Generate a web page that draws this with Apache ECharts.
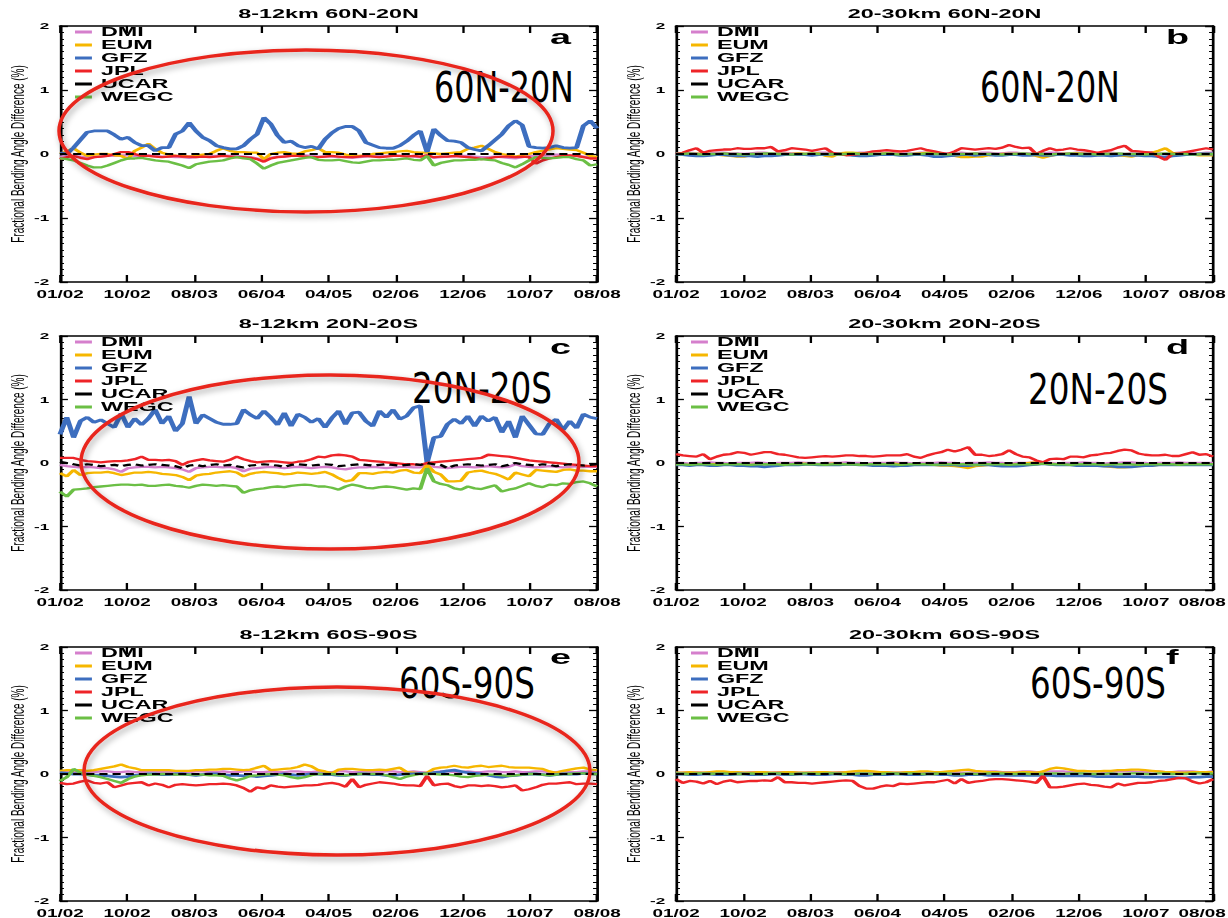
<!DOCTYPE html>
<html><head><meta charset="utf-8">
<script src="https://cdn.jsdelivr.net/npm/echarts@6/dist/echarts.min.js"></script>
<style>
html,body{margin:0;padding:0;background:#fff;overflow:hidden;width:1228px;height:918px;}
#stretch{position:absolute;left:0;top:0;width:682.222px;height:918px;transform:scaleX(1.8);transform-origin:0 0;}
#overlay{position:absolute;left:0;top:0;width:1228px;height:918px;pointer-events:none;}
</style></head><body>
<div id="stretch"></div><div id="overlay"></div>
<script>
// ---------- tick labels / names ----------
const xTickLabels = ['01/02','10/02','08/03','06/04','04/05','02/06','12/06','10/07','08/08'];
const centerNames = ['DMI','EUM','GFZ','JPL','UCAR','WEGC'];
const panelTitles = ['8-12km 60N-20N','20-30km 60N-20N','8-12km 20N-20S','20-30km 20N-20S','8-12km 60S-90S','20-30km 60S-90S'];
const panelLetters = ['a','b','c','d','e','f'];
const regionLabels = ['60N-20N','60N-20N','20N-20S','20N-20S','60S-90S','60S-90S'];
const yAxisName = 'Fractional Bending Angle Difference (%)';

// ---------- monthly values, Jan 2002 .. Aug 2008 (80 months) ----------
const ucarRef = [
0,0,0,0,0,0,0,0,0,0, 0,0,0,0,0,0,0,0,0,0, 0,0,0,0,0,0,0,0,0,0, 0,0,0,0,0,0,0,0,0,0,
0,0,0,0,0,0,0,0,0,0, 0,0,0,0,0,0,0,0,0,0, 0,0,0,0,0,0,0,0,0,0, 0,0,0,0,0,0,0,0,0,0];

// panel a: 8-12km 60N-20N
const dmiA = [
-0.04,-0.03,-0.03,-0.04,-0.05,-0.05,-0.04,-0.03,-0.03,-0.02,
-0.02,-0.03,-0.03,-0.02,-0.03,-0.04,-0.04,-0.05,-0.05,-0.06,
-0.05,-0.04,-0.03,-0.03,-0.02,-0.03,-0.03,-0.04,-0.05,-0.07,
-0.10,-0.06,-0.04,-0.04,-0.03,-0.03,-0.02,-0.03,-0.04,-0.04,
-0.04,-0.05,-0.05,-0.06,-0.05,-0.04,-0.03,-0.03,-0.03,-0.02,
-0.03,-0.03,-0.04,-0.05,-0.02,-0.06,-0.05,-0.04,-0.04,-0.03,
-0.03,-0.04,-0.05,-0.05,-0.04,-0.05,-0.06,-0.07,-0.05,-0.03,
-0.03,-0.02,-0.02,-0.01,-0.01,-0.02,-0.03,-0.04,-0.05,-0.05];
const eumA = [
0.00,0.04,0.09,0.02,-0.03,-0.01,0.00,0.00,-0.02,-0.03,
-0.08,0.05,0.10,0.16,0.08,0.02,-0.01,-0.03,-0.03,-0.04,
-0.03,-0.01,0.00,0.05,0.09,0.05,0.03,0.03,0.02,0.02,
-0.08,0.00,0.02,0.03,0.01,0.00,0.04,0.06,0.09,0.03,
0.03,0.02,-0.01,-0.03,-0.03,-0.02,0.00,0.01,0.02,0.03,
0.04,0.05,0.03,0.02,0.02,0.01,0.00,0.01,0.02,0.03,
0.08,0.10,0.13,0.08,0.03,0.00,-0.02,-0.04,-0.02,0.00,
0.03,0.05,0.07,0.09,0.08,0.07,0.06,0.02,-0.03,-0.05];
const gfzA = [
0.02,0.00,0.10,0.22,0.34,0.36,0.36,0.36,0.30,0.23,
0.26,0.18,0.13,0.13,0.05,0.10,0.10,0.31,0.36,0.49,
0.36,0.26,0.21,0.13,0.10,0.08,0.08,0.13,0.23,0.31,
0.57,0.47,0.29,0.18,0.20,0.13,0.10,0.12,0.08,0.23,
0.33,0.40,0.43,0.43,0.36,0.18,0.14,0.10,0.09,0.09,
0.13,0.20,0.29,0.36,0.03,0.39,0.29,0.21,0.20,0.18,
0.10,0.07,0.05,0.13,0.22,0.31,0.44,0.52,0.45,0.12,
0.10,0.09,0.10,0.13,0.10,0.09,0.10,0.44,0.52,0.40];
const jplA = [
-0.08,-0.05,-0.03,-0.06,-0.08,-0.05,-0.04,-0.03,0.00,0.03,
0.03,0.00,-0.03,-0.03,-0.04,-0.05,-0.04,-0.03,-0.04,-0.04,
-0.05,-0.04,-0.05,-0.04,-0.03,-0.04,-0.05,-0.05,-0.06,-0.08,
-0.12,-0.07,-0.05,-0.04,-0.03,-0.03,-0.04,-0.05,-0.05,-0.04,
-0.03,-0.04,-0.05,-0.05,-0.04,-0.03,-0.04,-0.05,-0.04,-0.03,
-0.03,-0.04,-0.03,-0.04,-0.02,-0.05,-0.04,-0.04,-0.03,-0.04,
-0.05,-0.06,-0.08,-0.07,-0.05,-0.04,-0.04,-0.05,-0.04,-0.05,
-0.15,-0.10,-0.07,-0.05,-0.03,-0.02,-0.03,-0.05,-0.07,-0.07];
const wegcA = [
-0.07,-0.08,-0.10,-0.14,-0.18,-0.21,-0.21,-0.18,-0.14,-0.10,
-0.07,-0.07,-0.06,-0.08,-0.10,-0.11,-0.12,-0.15,-0.18,-0.22,
-0.16,-0.14,-0.12,-0.11,-0.10,-0.07,-0.05,-0.07,-0.08,-0.15,
-0.23,-0.18,-0.14,-0.12,-0.10,-0.08,-0.06,-0.05,-0.09,-0.10,
-0.10,-0.09,-0.11,-0.13,-0.14,-0.12,-0.10,-0.10,-0.09,-0.09,
-0.08,-0.07,-0.09,-0.10,-0.03,-0.18,-0.14,-0.12,-0.10,-0.10,
-0.09,-0.09,-0.08,-0.09,-0.10,-0.14,-0.17,-0.21,-0.16,-0.10,
-0.05,-0.06,-0.07,-0.06,-0.05,-0.05,-0.08,-0.10,-0.18,-0.16];

// panel b: 20-30km 60N-20N
const dmiB = [
0.01,0.01,0.02,0.01,0.00,0.01,0.02,0.02,0.01,0.01,
0.00,0.01,0.02,0.02,0.01,0.01,0.02,0.01,0.01,0.00,
0.01,0.02,0.02,0.01,0.00,0.01,0.01,0.02,0.02,0.01,
0.01,0.02,0.02,0.01,0.01,0.01,0.02,0.02,0.01,0.00,
0.01,0.01,0.02,0.01,0.01,0.02,0.02,0.01,0.01,0.02,
0.02,0.01,0.01,0.00,0.01,0.02,0.02,0.01,0.01,0.02,
0.02,0.01,0.01,0.02,0.02,0.01,0.00,0.01,0.01,0.02,
0.02,0.01,0.00,0.01,0.02,0.02,0.01,0.01,0.02,0.02];
const eumB = [
0.00,0.00,-0.01,0.00,0.01,0.00,-0.01,-0.02,-0.03,-0.04,
-0.04,-0.02,0.00,-0.01,-0.01,0.00,0.00,0.00,0.01,0.00,
0.00,0.01,-0.03,-0.04,0.01,0.02,0.02,0.01,0.00,0.00,
0.00,0.01,0.00,0.00,-0.01,0.00,0.01,0.02,0.01,0.00,
-0.01,-0.03,-0.05,-0.05,-0.04,-0.04,-0.02,-0.01,0.00,0.00,
0.00,-0.01,-0.01,-0.03,-0.06,-0.03,-0.01,0.00,0.00,0.01,
0.00,0.00,-0.01,0.00,0.00,-0.02,-0.03,-0.04,-0.02,0.00,
0.02,0.05,0.09,0.02,0.00,-0.01,-0.01,-0.02,-0.02,-0.02];
const gfzB = [
0.00,-0.01,-0.02,-0.03,-0.03,-0.02,-0.01,-0.01,-0.02,-0.03,
-0.03,-0.03,-0.04,-0.03,-0.03,-0.02,-0.01,-0.01,-0.01,-0.01,
-0.02,-0.01,-0.01,0.00,0.00,-0.01,-0.02,-0.03,-0.03,-0.02,
-0.01,-0.01,-0.01,-0.02,-0.02,-0.01,-0.01,-0.02,-0.04,-0.04,
-0.03,-0.02,-0.01,-0.01,-0.02,-0.01,-0.01,-0.02,-0.02,-0.01,
-0.01,-0.02,-0.02,-0.01,-0.02,-0.02,-0.01,-0.01,-0.02,-0.02,
-0.03,-0.03,-0.02,-0.02,-0.03,-0.02,-0.01,-0.02,-0.02,-0.03,
-0.03,-0.04,-0.05,-0.03,-0.02,-0.01,-0.01,0.00,0.00,0.00];
const jplB = [
0.00,0.02,0.06,0.09,0.02,0.05,0.06,0.07,0.07,0.09,
0.08,0.08,0.09,0.09,0.11,0.04,0.06,0.09,0.08,0.07,
0.05,0.07,0.09,0.02,0.00,-0.02,-0.01,0.00,0.02,0.04,
0.05,0.06,0.05,0.04,0.05,0.07,0.09,0.06,0.04,0.02,
0.00,0.04,0.09,0.08,0.07,0.08,0.09,0.08,0.10,0.14,
0.11,0.09,0.10,0.00,0.05,0.09,0.06,0.07,0.09,0.07,
0.06,0.04,0.02,0.04,0.06,0.10,0.13,0.05,0.04,0.03,
0.02,-0.04,-0.09,0.00,0.01,0.03,0.05,0.07,0.09,0.07];
const wegcB = [
0.00,0.00,0.01,0.00,-0.01,0.00,0.00,0.01,0.00,0.00,
-0.01,0.00,0.00,0.01,0.01,0.00,0.00,-0.01,0.00,0.00,
0.01,0.00,0.00,0.00,-0.01,0.00,0.01,0.00,0.00,0.00,
0.00,0.01,0.00,-0.01,0.00,0.00,0.00,0.01,0.00,0.00,
-0.01,0.00,0.00,0.00,0.01,0.00,0.00,0.00,-0.01,0.00,
0.00,0.01,0.00,0.00,0.00,-0.01,0.00,0.00,0.01,0.00,
0.00,0.00,-0.01,0.00,0.00,0.01,0.00,0.00,0.00,-0.01,
0.00,0.00,0.01,0.00,0.00,0.00,-0.01,0.00,0.00,0.00];

// panel c: 8-12km 20N-20S
const dmiC = [
-0.03,-0.05,-0.06,-0.07,-0.06,-0.07,-0.08,-0.08,-0.10,-0.14,
-0.08,-0.07,-0.06,-0.06,-0.07,-0.06,-0.07,-0.08,-0.10,-0.14,
-0.08,-0.07,-0.06,-0.06,-0.07,-0.06,-0.08,-0.13,-0.09,-0.08,
-0.07,-0.06,-0.07,-0.08,-0.07,-0.06,-0.07,-0.08,-0.07,-0.06,
-0.07,-0.09,-0.10,-0.08,-0.07,-0.07,-0.06,-0.07,-0.08,-0.07,
-0.06,-0.06,-0.07,-0.07,-0.02,-0.06,-0.07,-0.08,-0.07,-0.06,
-0.06,-0.07,-0.06,-0.05,-0.06,-0.07,-0.06,-0.02,-0.05,-0.06,
-0.07,-0.06,-0.05,-0.06,-0.07,-0.06,-0.05,-0.06,-0.06,-0.06];
const eumC = [
-0.16,-0.21,-0.11,-0.19,-0.16,-0.15,-0.15,-0.14,-0.16,-0.19,
-0.17,-0.15,-0.15,-0.14,-0.15,-0.17,-0.18,-0.19,-0.22,-0.27,
-0.20,-0.18,-0.17,-0.15,-0.14,-0.13,-0.15,-0.21,-0.17,-0.15,
-0.14,-0.15,-0.16,-0.18,-0.17,-0.15,-0.16,-0.17,-0.16,-0.14,
-0.18,-0.24,-0.29,-0.27,-0.16,-0.16,-0.17,-0.15,-0.14,-0.15,
-0.12,-0.11,-0.15,-0.16,-0.03,-0.14,-0.18,-0.29,-0.29,-0.28,
-0.15,-0.13,-0.12,-0.15,-0.17,-0.21,-0.26,-0.15,-0.18,-0.21,
-0.11,-0.12,-0.13,-0.14,-0.11,-0.10,-0.12,-0.12,-0.13,-0.13];
const gfzC = [
0.45,0.72,0.40,0.66,0.72,0.64,0.68,0.62,0.56,0.78,
0.56,0.70,0.60,0.70,0.84,0.62,0.74,0.50,0.62,1.05,
0.62,0.76,0.70,0.64,0.61,0.61,0.62,0.84,0.76,0.70,
0.82,0.72,0.60,0.79,0.58,0.77,0.72,0.64,0.70,0.56,
0.71,0.82,0.61,0.79,0.80,0.66,0.58,0.82,0.72,0.84,
0.69,0.74,0.87,0.90,0.00,0.40,0.42,0.61,0.69,0.62,
0.74,0.58,0.74,0.66,0.72,0.48,0.66,0.40,0.74,0.60,
0.46,0.45,0.62,0.69,0.52,0.66,0.55,0.77,0.72,0.70];
const jplC = [
0.08,0.08,0.08,0.05,0.03,0.02,0.01,0.02,0.03,0.03,
0.04,0.06,0.10,0.05,0.05,0.04,0.05,0.03,-0.03,0.02,
0.04,0.06,0.04,0.03,0.02,0.05,0.10,0.06,0.03,0.01,
0.02,0.03,0.02,0.01,0.00,0.02,0.03,0.06,0.10,0.09,
0.12,0.13,0.12,0.10,0.05,0.04,0.03,0.02,0.01,0.00,
-0.01,-0.02,-0.02,-0.03,0.00,0.01,0.02,0.03,0.04,0.05,
0.06,0.07,0.08,0.13,0.12,0.11,0.10,0.08,0.06,0.04,
0.03,0.02,0.01,0.00,-0.01,-0.02,-0.03,-0.04,-0.05,-0.05];
const ucarC = [
0.02,0.00,-0.02,-0.04,-0.02,-0.03,-0.05,-0.04,-0.03,-0.05,
-0.03,-0.02,-0.04,-0.03,-0.02,-0.03,-0.04,-0.05,-0.08,-0.04,
-0.03,-0.05,-0.03,-0.02,-0.04,-0.03,-0.05,-0.07,-0.04,-0.03,
-0.02,-0.03,-0.04,-0.06,-0.03,-0.02,-0.03,-0.04,-0.03,-0.02,
-0.03,-0.05,-0.04,-0.03,-0.02,-0.03,-0.04,-0.03,-0.02,-0.03,
-0.04,-0.03,-0.02,-0.03,0.00,-0.02,-0.03,-0.08,-0.04,-0.03,
-0.02,-0.03,-0.04,-0.03,-0.02,-0.05,-0.03,0.00,-0.02,-0.03,
-0.04,-0.02,-0.03,-0.05,-0.03,-0.02,-0.03,-0.04,-0.03,-0.02];
const wegcC = [
-0.45,-0.53,-0.42,-0.41,-0.40,-0.38,-0.37,-0.36,-0.35,-0.34,
-0.34,-0.35,-0.34,-0.36,-0.36,-0.35,-0.34,-0.36,-0.37,-0.39,
-0.36,-0.34,-0.35,-0.36,-0.35,-0.36,-0.37,-0.47,-0.43,-0.41,
-0.40,-0.38,-0.37,-0.38,-0.36,-0.35,-0.34,-0.35,-0.37,-0.37,
-0.39,-0.42,-0.37,-0.34,-0.36,-0.39,-0.40,-0.38,-0.37,-0.38,
-0.40,-0.42,-0.40,-0.41,-0.08,-0.29,-0.33,-0.35,-0.40,-0.42,
-0.37,-0.40,-0.41,-0.38,-0.35,-0.45,-0.42,-0.40,-0.36,-0.32,
-0.36,-0.38,-0.34,-0.35,-0.32,-0.33,-0.30,-0.29,-0.32,-0.37];

// panel d: 20-30km 20N-20S
const dmiD = [
0.00,0.00,-0.01,0.00,0.00,0.01,0.00,0.00,-0.01,0.00,
0.00,0.00,0.01,0.00,-0.01,0.00,0.00,0.00,0.01,0.00,
0.00,-0.01,0.00,0.00,0.00,0.01,0.00,0.00,-0.01,0.00,
0.00,0.00,0.01,0.00,0.00,-0.01,0.00,0.00,0.00,0.01,
0.00,0.00,-0.01,0.00,0.00,0.00,0.01,0.00,0.00,-0.01,
0.00,0.00,0.00,0.01,0.00,0.00,-0.01,0.00,0.00,0.00,
0.01,0.00,0.00,-0.01,0.00,0.00,0.01,0.01,0.00,0.00,
-0.01,0.00,0.00,0.00,0.01,0.00,0.00,0.00,0.00,0.00];
const eumD = [
-0.02,-0.03,-0.03,-0.02,-0.03,-0.02,-0.02,-0.03,-0.02,-0.02,
-0.02,-0.03,-0.03,-0.02,-0.02,-0.02,-0.03,-0.02,-0.01,-0.01,
-0.02,-0.02,-0.02,-0.01,-0.01,-0.02,-0.02,-0.02,-0.03,-0.02,
-0.02,-0.02,-0.01,-0.02,-0.02,-0.03,-0.02,-0.03,-0.03,-0.04,
-0.04,-0.05,-0.06,-0.08,-0.05,-0.04,-0.03,-0.03,-0.02,-0.03,
-0.02,-0.01,0.00,0.01,0.00,-0.01,-0.02,-0.02,-0.03,-0.03,
-0.03,-0.03,-0.04,-0.05,-0.06,-0.07,-0.07,-0.06,-0.05,-0.04,
-0.04,-0.03,-0.03,-0.03,-0.02,-0.02,-0.03,-0.02,-0.02,-0.02];
const gfzD = [
-0.03,-0.03,-0.04,-0.03,-0.03,-0.04,-0.04,-0.03,-0.03,-0.04,
-0.04,-0.05,-0.05,-0.06,-0.05,-0.04,-0.03,-0.03,-0.03,-0.02,
-0.02,-0.03,-0.03,-0.03,-0.03,-0.02,-0.02,-0.03,-0.03,-0.04,
-0.04,-0.04,-0.05,-0.04,-0.04,-0.03,-0.03,-0.03,-0.03,-0.03,
-0.03,-0.03,-0.04,-0.04,-0.03,-0.03,-0.03,-0.04,-0.05,-0.05,
-0.05,-0.04,-0.03,-0.02,-0.01,-0.02,-0.03,-0.03,-0.03,-0.04,
-0.04,-0.04,-0.04,-0.05,-0.05,-0.06,-0.06,-0.06,-0.05,-0.04,
-0.04,-0.03,-0.03,-0.03,-0.03,-0.03,-0.03,-0.03,-0.03,-0.03];
const jplD = [
0.14,0.12,0.11,0.10,0.14,0.06,0.10,0.13,0.14,0.17,
0.16,0.13,0.15,0.17,0.17,0.14,0.13,0.11,0.09,0.08,
0.09,0.10,0.11,0.10,0.11,0.12,0.12,0.11,0.11,0.10,
0.11,0.12,0.12,0.12,0.14,0.10,0.08,0.12,0.15,0.17,
0.21,0.18,0.21,0.25,0.13,0.13,0.11,0.12,0.14,0.20,
0.14,0.10,0.09,0.04,0.01,0.06,0.07,0.06,0.10,0.10,
0.09,0.12,0.13,0.15,0.16,0.19,0.21,0.20,0.15,0.13,
0.12,0.12,0.13,0.11,0.11,0.14,0.17,0.13,0.14,0.10];
const wegcD = [
-0.02,-0.02,-0.03,-0.02,-0.02,-0.02,-0.03,-0.02,-0.02,-0.02,
-0.02,-0.03,-0.02,-0.02,-0.02,-0.02,-0.03,-0.02,-0.02,-0.02,
-0.02,-0.02,-0.03,-0.02,-0.02,-0.02,-0.02,-0.03,-0.02,-0.02,
-0.02,-0.02,-0.02,-0.03,-0.02,-0.02,-0.02,-0.02,-0.03,-0.02,
-0.02,-0.02,-0.02,-0.02,-0.03,-0.02,-0.02,-0.02,-0.02,-0.03,
-0.02,-0.02,-0.02,-0.02,-0.01,-0.02,-0.02,-0.02,-0.03,-0.02,
-0.02,-0.02,-0.02,-0.03,-0.02,-0.02,-0.02,-0.02,-0.03,-0.02,
-0.02,-0.02,-0.02,-0.02,-0.03,-0.02,-0.02,-0.02,-0.02,-0.02];

// panel e: 8-12km 60S-90S
const dmiE = [
0.04,0.03,0.03,0.04,0.03,0.03,0.04,0.04,0.03,0.03,
0.04,0.03,0.03,0.04,0.04,0.03,0.03,0.04,0.03,0.03,
0.04,0.04,0.03,0.03,0.04,0.03,0.03,0.04,0.04,0.03,
0.03,0.04,0.03,0.03,0.04,0.04,0.03,0.03,0.04,0.03,
0.03,0.04,0.04,0.03,0.03,0.04,0.03,0.03,0.04,0.04,
0.03,0.03,0.04,0.03,0.02,0.03,0.04,0.04,0.03,0.03,
0.04,0.03,0.03,0.04,0.04,0.03,0.03,0.04,0.03,0.03,
0.04,0.04,0.03,0.03,0.04,0.03,0.03,0.04,0.04,0.04];
const eumE = [
0.05,0.06,0.06,0.06,0.05,0.06,0.08,0.10,0.12,0.15,
0.11,0.09,0.06,0.06,0.06,0.06,0.06,0.05,0.05,0.05,
0.06,0.06,0.07,0.07,0.08,0.08,0.07,0.06,0.07,0.10,
0.13,0.06,0.07,0.08,0.09,0.11,0.15,0.12,0.06,0.04,
0.01,0.07,0.08,0.08,0.07,0.06,0.06,0.07,0.06,0.08,
0.10,0.03,0.02,0.01,0.02,0.08,0.10,0.11,0.13,0.11,
0.10,0.12,0.13,0.11,0.12,0.13,0.11,0.10,0.10,0.10,
0.09,0.08,0.04,0.02,0.05,0.07,0.09,0.10,0.07,0.06];
const gfzE = [
0.02,0.01,0.00,0.00,-0.01,-0.02,-0.02,-0.03,-0.04,-0.05,
-0.04,-0.02,-0.01,0.00,0.00,-0.01,-0.01,0.00,0.00,-0.01,
-0.02,-0.01,0.00,0.00,-0.01,-0.02,-0.02,-0.03,-0.03,-0.04,
-0.03,-0.02,-0.01,0.00,-0.01,-0.02,-0.01,0.00,0.00,-0.01,
-0.01,-0.02,-0.02,-0.01,0.00,0.00,-0.01,-0.01,-0.02,-0.02,
-0.01,0.00,0.00,0.01,0.00,0.02,0.03,0.05,0.06,0.04,
0.02,0.01,0.00,-0.02,-0.04,-0.05,-0.03,-0.02,-0.01,0.00,
0.00,-0.01,-0.02,-0.01,0.00,0.00,0.00,0.01,0.01,0.00];
const jplE = [
-0.14,-0.16,-0.15,-0.12,-0.10,-0.14,-0.15,-0.13,-0.21,-0.18,
-0.15,-0.14,-0.13,-0.18,-0.15,-0.17,-0.21,-0.17,-0.16,-0.17,
-0.18,-0.17,-0.16,-0.16,-0.15,-0.16,-0.18,-0.22,-0.28,-0.21,
-0.23,-0.18,-0.20,-0.21,-0.20,-0.19,-0.18,-0.18,-0.17,-0.15,
-0.14,-0.16,-0.20,-0.08,-0.21,-0.17,-0.15,-0.13,-0.14,-0.15,
-0.17,-0.18,-0.18,-0.19,-0.03,-0.18,-0.16,-0.15,-0.19,-0.21,
-0.18,-0.18,-0.19,-0.18,-0.19,-0.21,-0.20,-0.18,-0.26,-0.24,
-0.21,-0.17,-0.15,-0.15,-0.14,-0.13,-0.16,-0.15,-0.15,-0.16];
const wegcE = [
-0.11,-0.05,0.08,0.02,-0.01,-0.03,-0.05,-0.08,-0.11,-0.14,
-0.08,-0.04,-0.02,-0.01,-0.01,0.00,0.00,-0.01,-0.01,-0.01,
-0.01,-0.01,-0.02,-0.02,-0.03,-0.07,-0.10,-0.07,-0.03,-0.02,
-0.01,0.00,-0.01,-0.02,-0.05,-0.07,-0.05,-0.02,0.00,0.00,
0.00,-0.01,-0.02,-0.01,0.00,0.00,0.00,0.00,-0.02,-0.05,
-0.08,-0.04,-0.02,0.00,0.00,0.00,-0.01,-0.01,-0.02,-0.04,
-0.05,-0.03,-0.02,-0.01,-0.01,-0.02,-0.03,-0.02,-0.01,0.00,
0.00,-0.01,-0.02,-0.01,0.00,0.00,0.01,0.01,0.00,0.00];

// panel f: 20-30km 60S-90S
const dmiF = [
0.02,0.02,0.03,0.03,0.02,0.02,0.03,0.03,0.03,0.02,
0.02,0.03,0.03,0.02,0.02,0.03,0.03,0.03,0.02,0.02,
0.03,0.03,0.02,0.02,0.03,0.03,0.03,0.03,0.02,0.02,
0.03,0.03,0.02,0.02,0.03,0.03,0.03,0.02,0.02,0.03,
0.03,0.03,0.02,0.02,0.03,0.03,0.04,0.04,0.03,0.03,
0.03,0.04,0.04,0.03,0.03,0.04,0.04,0.04,0.03,0.03,
0.04,0.04,0.04,0.03,0.03,0.04,0.04,0.04,0.03,0.03,
0.04,0.04,0.03,0.03,0.04,0.04,0.04,0.03,0.03,0.04];
const eumF = [
0.02,0.02,0.03,0.02,0.02,0.03,0.04,0.04,0.03,0.03,
0.02,0.02,0.03,0.03,0.02,0.02,0.03,0.03,0.02,0.02,
0.02,0.03,0.03,0.02,0.02,0.03,0.04,0.05,0.05,0.04,
0.03,0.03,0.02,0.02,0.03,0.03,0.04,0.04,0.03,0.03,
0.04,0.05,0.06,0.07,0.05,0.04,0.03,0.03,0.02,0.02,
0.02,0.03,0.03,0.02,0.04,0.08,0.10,0.09,0.07,0.05,
0.05,0.04,0.04,0.05,0.05,0.06,0.06,0.07,0.07,0.06,
0.05,0.04,0.03,0.03,0.02,0.02,0.03,0.03,0.03,0.03];
const gfzF = [
0.00,0.00,-0.01,-0.01,0.00,0.00,-0.01,-0.01,-0.01,0.00,
0.00,-0.01,-0.01,-0.01,0.00,0.00,-0.01,-0.01,0.00,0.00,
-0.01,-0.01,-0.01,0.00,0.00,-0.01,-0.01,-0.02,-0.02,-0.01,
-0.01,-0.01,0.00,0.00,-0.01,-0.01,-0.01,0.00,0.00,-0.01,
-0.01,-0.02,-0.02,-0.01,-0.01,-0.01,-0.02,-0.02,-0.02,-0.02,
-0.02,-0.02,-0.02,-0.02,-0.02,-0.02,-0.03,-0.03,-0.03,-0.03,
-0.03,-0.03,-0.04,-0.04,-0.04,-0.04,-0.04,-0.04,-0.04,-0.05,
-0.05,-0.05,-0.05,-0.05,-0.06,-0.06,-0.05,-0.05,-0.04,-0.04];
const jplF = [
-0.08,-0.14,-0.11,-0.12,-0.15,-0.11,-0.16,-0.12,-0.10,-0.13,
-0.12,-0.11,-0.11,-0.10,-0.11,-0.05,-0.13,-0.13,-0.14,-0.14,
-0.15,-0.14,-0.13,-0.12,-0.11,-0.10,-0.11,-0.19,-0.23,-0.23,
-0.20,-0.18,-0.19,-0.15,-0.16,-0.15,-0.14,-0.13,-0.13,-0.11,
-0.09,-0.15,-0.08,-0.14,-0.12,-0.11,-0.09,-0.08,-0.08,-0.09,
-0.10,-0.11,-0.12,-0.14,-0.03,-0.21,-0.21,-0.20,-0.18,-0.16,
-0.15,-0.17,-0.18,-0.20,-0.21,-0.15,-0.18,-0.16,-0.14,-0.14,
-0.13,-0.11,-0.10,-0.08,-0.06,-0.07,-0.12,-0.15,-0.13,-0.08];
const wegcF = [
0.01,0.00,0.00,0.01,0.01,0.00,0.01,0.01,0.00,0.00,
0.00,0.01,0.00,0.00,0.01,0.01,0.00,0.00,0.00,0.01,
0.01,0.00,0.01,0.01,0.00,0.00,0.00,0.01,0.01,0.00,
0.00,0.01,0.01,0.00,0.01,0.01,0.00,0.00,0.00,0.01,
0.01,0.00,0.00,0.01,0.00,0.00,0.01,0.01,0.01,0.00,
0.00,0.01,0.00,0.00,0.00,0.01,0.01,0.00,0.01,0.01,
0.01,0.00,0.00,0.00,0.01,0.00,0.00,0.01,0.01,0.00,
0.00,0.01,0.01,0.00,0.00,0.00,0.01,0.01,0.00,0.01];

// ---------- assemble panels (table built from the arrays above) ----------
const panelSeries = [
  {DMI:dmiA, EUM:eumA, GFZ:gfzA, JPL:jplA, UCAR:ucarRef, WEGC:wegcA},
  {DMI:dmiB, EUM:eumB, GFZ:gfzB, JPL:jplB, UCAR:ucarRef, WEGC:wegcB},
  {DMI:dmiC, EUM:eumC, GFZ:gfzC, JPL:jplC, UCAR:ucarC,   WEGC:wegcC},
  {DMI:dmiD, EUM:eumD, GFZ:gfzD, JPL:jplD, UCAR:ucarRef, WEGC:wegcD},
  {DMI:dmiE, EUM:eumE, GFZ:gfzE, JPL:jplE, UCAR:ucarRef, WEGC:wegcE},
  {DMI:dmiF, EUM:eumF, GFZ:gfzF, JPL:jplF, UCAR:ucarRef, WEGC:wegcF}
];

// ---------- styles / layout ----------
const S = 1.8; // horizontal stretch of the original figure
const FONT = "'Liberation Sans', Arial, Helvetica, sans-serif";
const NARROW = "'Liberation Sans Narrow', 'Arial Narrow', 'DejaVu Sans Condensed', sans-serif";
const seriesStyle = {
  DMI:  {color:'#d57fcc', width:2.3, type:'solid'},
  EUM:  {color:'#f6b700', width:2.3, type:'solid'},
  GFZ:  {color:'#3d6ebf', width:2.8, type:'solid'},
  JPL:  {color:'#ee2428', width:2.3, type:'solid'},
  UCAR: {color:'#000000', width:2.2, type:[4.5,2.8]},
  WEGC: {color:'#6bbf45', width:2.3, type:'solid'}
};
const colLeft = [60, 676], plotW = 537;
const rowTop = [26, 336, 647], rowH = [256, 254, 254];
const titleY = [14, 324, 635];
const letterY = [36, 346, 656];
const X_INTERVAL = 79 / 8;
const labelFont = {fontSize: 10.5, fontWeight: 'bold', color: '#000', fontFamily: FONT};

const grids = [], xAxes = [], yAxes = [], series = [], legends = [], graphics = [];
panelSeries.forEach((ps, i) => {
  const r = Math.floor(i / 2), c = i % 2;
  const L = colLeft[c], T = rowTop[r], H = rowH[r];
  grids.push({left: L / S, top: T, width: plotW / S, height: H, containLabel: false, outerBoundsMode: 'none'});
  const axLine = {show: true, onZero: false, lineStyle: {color: '#000', width: 1.5}};
  const xBase = {type: 'value', gridIndex: i, min: 0, max: 79, interval: X_INTERVAL,
    splitLine: {show: false}, axisLine: axLine,
    axisTick: {show: true, inside: true, length: 7, lineStyle: {color: '#000', width: 1.3}}};
  const xLabel = Object.assign({show: true, margin: 7, showMinLabel: true, showMaxLabel: true, hideOverlap: false,
      formatter: v => {
        const k = Math.round(v / X_INTERVAL);
        const t = xTickLabels[k] || '';
        return (c === 1 && k === xTickLabels.length - 1) ? '{last|' + t + '}' : t;
      },
      rich: {last: Object.assign({padding: [0, 12, 0, 0]}, labelFont)}}, labelFont);
  xAxes.push(Object.assign({}, xBase, {position: 'bottom', axisLabel: xLabel}));
  xAxes.push(Object.assign({}, xBase, {position: 'top', axisLabel: {show: false}}));
  const yBase = {type: 'value', gridIndex: i, min: -2, max: 2, interval: 1,
    splitLine: {show: false}, minorSplitLine: {show: false}, axisLine: axLine,
    axisTick: {show: true, inside: true, length: 4.4, lineStyle: {color: '#000', width: 1.3}},
    minorTick: {show: true, splitNumber: 10, length: 2.2, lineStyle: {color: '#000', width: 1}}};
  yAxes.push(Object.assign({}, yBase, {position: 'left',
    axisLabel: {show: true, fontSize: 9.5, fontWeight: 'bold', color: '#000', fontFamily: FONT, margin: 6},
    name: yAxisName, nameLocation: 'middle', nameRotate: 90, nameGap: 18,
    nameTextStyle: {fontSize: 10, color: '#000', fontFamily: FONT}}));
  yAxes.push(Object.assign({}, yBase, {position: 'right', axisLabel: {show: false}}));

  centerNames.forEach(name => {
    const st = seriesStyle[name];
    series.push({
      name, type: 'line', xAxisIndex: 2 * i, yAxisIndex: 2 * i,
      data: ps[name].map((v, k) => [k, v]),
      symbol: 'none', showSymbol: false, animation: false, clip: true,
      z: name === 'UCAR' ? 4 : 3,
      lineStyle: {color: st.color, width: st.width, type: st.type},
      itemStyle: {color: st.color},
      emphasis: {disabled: true}, silent: true
    });
  });

  legends.push({show: true, orient: 'vertical', left: (L + 15) / S, top: T - 0.5, padding: 0,
    itemGap: 0, itemWidth: 9.4, itemHeight: 3, icon: 'rect', selectedMode: false,
    data: centerNames,
    textStyle: {fontSize: 13, fontWeight: 'bold', color: '#000', fontFamily: FONT, lineHeight: 13}});

  graphics.push({type: 'text', x: (L + plotW / 2) / S, y: titleY[r], z: 10,
    style: {text: panelTitles[i], fontSize: 13, fontWeight: 'bold', fontFamily: FONT, fill: '#000',
      align: 'center', verticalAlign: 'middle'}});
  graphics.push({type: 'text', x: (L + plotW - 47) / S, y: letterY[r], z: 10,
    style: {text: panelLetters[i], fontSize: 21, fontWeight: 'bold', fontFamily: FONT, fill: '#000',
      align: 'left', verticalAlign: 'middle'}});
});

const chartMain = echarts.init(document.getElementById('stretch'), null, {renderer: 'svg'});
chartMain.setOption({
  animation: false,
  backgroundColor: '#fff',
  textStyle: {fontFamily: FONT},
  grid: grids, xAxis: xAxes, yAxis: yAxes, legend: legends, series, graphic: graphics
});

// ---------- overlay annotations (not stretched) ----------
const regionBoxes = [
  {x: 434, y: 87, w: 140}, {x: 980, y: 87, w: 140},
  {x: 412, y: 388, w: 140}, {x: 1028, y: 389, w: 140},
  {x: 399, y: 683, w: 136}, {x: 1030, y: 683, w: 136}
];
const ellipses = [
  {cx: 306, cy: 131, rx: 247, ry: 81},
  {cx: 330, cy: 462, rx: 249, ry: 87},
  {cx: 337, cy: 771, rx: 253, ry: 84}
];
const mctx = document.createElement('canvas').getContext('2d');
const overlayGraphics = [];
regionLabels.forEach((t, i) => {
  const b = regionBoxes[i];
  mctx.font = '43px ' + NARROW;
  const w = mctx.measureText(t).width || b.w;
  overlayGraphics.push({type: 'text', x: b.x, y: b.y, scaleX: b.w / w, scaleY: 1, z: 5,
    style: {text: t, fontSize: 43, fontFamily: NARROW, fill: '#000', align: 'left', verticalAlign: 'middle'}});
});
ellipses.forEach(e => {
  overlayGraphics.push({type: 'ellipse', shape: {cx: e.cx, cy: e.cy, rx: e.rx, ry: e.ry}, z: 6,
    style: {fill: 'none', stroke: '#e8251f', lineWidth: 3.5,
      shadowBlur: 6, shadowColor: 'rgba(0,0,0,0.35)', shadowOffsetX: 2, shadowOffsetY: 3}});
});
const chartOver = echarts.init(document.getElementById('overlay'), null, {renderer: 'svg'});
chartOver.setOption({animation: false, graphic: overlayGraphics});
</script>
</body></html>
